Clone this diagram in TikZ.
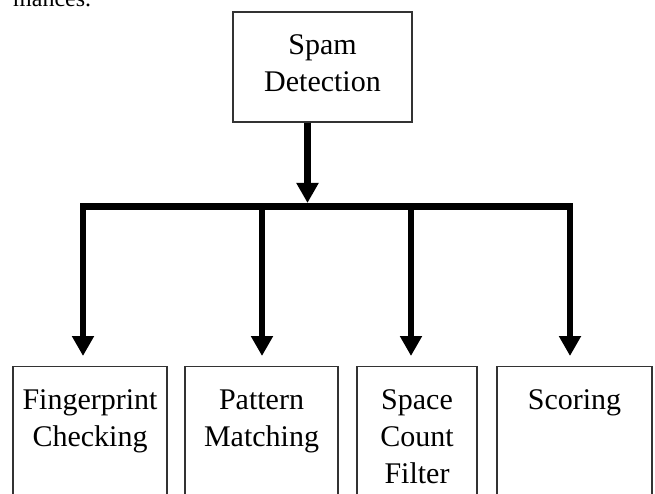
\documentclass[tikz,border=0pt]{standalone}
\usepackage{fontspec}
\setmainfont{Liberation Serif}
\usetikzlibrary{arrows.meta}
\begin{document}
\begin{tikzpicture}[x=1pt,y=-1pt,
  box/.style={draw=black!80,line width=1.1pt,inner sep=0pt},
  lbl/.style={align=center,inner sep=0pt,anchor=north,font=\fontsize{30}{37}\selectfont},
  conn/.style={line width=6.5pt},
  tip/.style={-{Triangle[width=21pt,length=20pt]}},
  tips/.style={{Triangle[width=21pt,length=20pt]}-{Triangle[width=21pt,length=20pt]}}]
\useasboundingbox (0,0) rectangle (655,494);
\clip (0,0) rectangle (655,494);

% end of the preceding paragraph
\node[anchor=base west,inner sep=0pt,font=\fontsize{24}{28}\selectfont] (prev) at (13,7) {mances.};

% root box
\node[box,minimum width=179pt,minimum height=110pt] (top) at (322.5,67) {};
\node[lbl] (toplbl) at (322.5,34.5) {Spam\\Detection};

% leaf boxes (running off the lower edge)
\node[box,minimum width=154pt,minimum height=160pt,anchor=north] (f1) at (90,366) {};
\node[box,minimum width=153pt,minimum height=160pt,anchor=north] (f2) at (261.5,366) {};
\node[box,minimum width=120pt,minimum height=160pt,anchor=north] (f3) at (417,366) {};
\node[box,minimum width=155pt,minimum height=160pt,anchor=north] (f4) at (574.5,366) {};
\node[lbl] (l1) at (90,389.5) {Fingerprint\\Checking};
\node[lbl] (l2) at (261.5,389.5) {Pattern\\Matching};
\node[lbl] (l3) at (417,389.5) {Space\\Count\\Filter};
\node[lbl] (l4) at (574.5,389.5) {Scoring};

% junctions on the distribution bar and arrow end points
\coordinate (jT) at (307.5,206.5);
\coordinate (jL) at (83,206.5);
\coordinate (j2) at (262,206.5);
\coordinate (j3) at (411,206.5);
\coordinate (jR) at (570,206.5);
\coordinate (t1) at (83,356);
\coordinate (t2) at (262,356);
\coordinate (t3) at (411,356);
\coordinate (t4) at (570,356);

% connectors
\draw[conn,tip,shorten >=3.5pt] (top.south -| jT) -- (jT);
\draw[conn,tips] (t1) -- (jL) -- (jR) -- (t4);
\draw[conn,tip] (j2) -- (t2);
\draw[conn,tip] (j3) -- (t3);
\end{tikzpicture}
\end{document}
